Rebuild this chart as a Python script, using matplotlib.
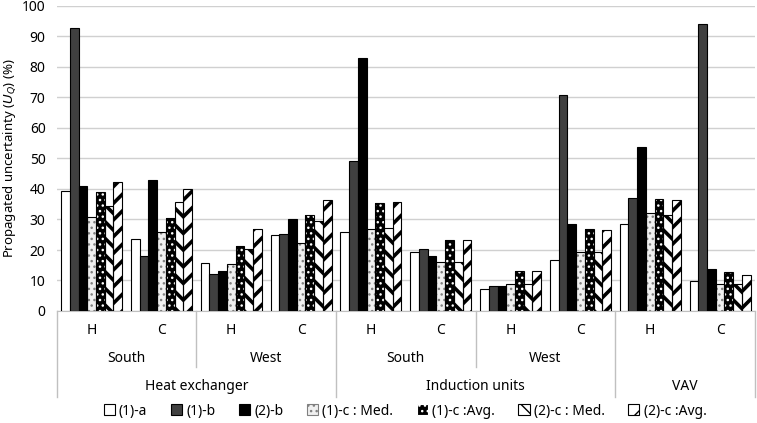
import numpy as np
import matplotlib
matplotlib.use("Agg")
import matplotlib.pyplot as plt
from matplotlib.patches import Patch
import matplotlib.transforms as mtransforms

plt.rcParams['font.family'] = ['Noto Sans', 'DejaVu Sans']

# categories (3 levels)
hc_labels = ['H', 'C', 'H', 'C', 'H', 'C', 'H', 'C', 'H', 'C']
orient_labels = ['South', 'West', 'South', 'West']
system_labels = ['Heat exchanger', 'Induction units', 'VAV']

series_names = ['(1)-a', '(1)-b', '(2)-b', '(1)-c : Med.', '(1)-c :Avg.',
                '(2)-c : Med.', '(2)-c :Avg.']

a1 = [39.2, 23.5, 15.7, 24.8, 25.8, 19.2, 7.2, 16.6, 28.4, 9.8]
b1 = [92.8, 18.0, 12.2, 25.2, 49.1, 20.3, 8.1, 70.9, 37.0, 94.2]
b2 = [41.0, 43.0, 13.0, 30.2, 82.8, 18.1, 8.3, 28.6, 53.9, 13.7]
c1_med = [30.7, 25.8, 15.3, 22.2, 26.9, 16.0, 8.7, 19.2, 32.0, 9.0]
c1_avg = [39.0, 30.5, 21.3, 31.4, 35.4, 23.3, 13.0, 26.8, 36.6, 12.8]
c2_med = [34.4, 35.7, 20.2, 29.5, 27.1, 16.2, 8.7, 19.2, 31.6, 8.7]
c2_avg = [42.4, 39.9, 26.8, 36.4, 35.6, 23.2, 13.0, 26.5, 36.4, 11.7]
values = [a1, b1, b2, c1_med, c1_avg, c2_med, c2_avg]

# face colour, hatch, hatch colour, hatch width
styles = [
    ('white', None, 'black', 1.0),
    ('#404040', None, 'black', 1.0),
    ('black', None, 'black', 1.0),
    ('#f0f0f0', '...', '#808080', 1.0),
    ('black', '...', 'white', 1.0),
    ('white', '\\\\', 'black', 2.6),
    ('white', '//', 'black', 2.6),
]

fig = plt.figure(figsize=(7.57, 4.23), dpi=100)
ax = fig.add_axes([56.7 / 757, 1 - 311 / 423, (755 - 56.7) / 757, (311 - 6) / 423])

x = np.arange(len(hc_labels))
w = 0.125
handles = []
for k, (vals, (fc, hatch, hc, hlw)) in enumerate(zip(values, styles)):
    pos = x - 3 * w + k * w
    if hatch:
        bars = ax.bar(pos, vals, width=w, color=fc, hatch=hatch, edgecolor=hc,
                      linewidth=0, zorder=2)
        for b in bars:
            b.set_hatch_linewidth(hlw)
    ax.bar(pos, vals, width=w, facecolor=fc if not hatch else 'none',
           edgecolor='black', linewidth=0.8, zorder=3)
    h = Patch(facecolor=fc, hatch=hatch, edgecolor=hc if hatch else 'black',
              linewidth=0.8)
    h.set_hatch_linewidth(min(hlw, 2.0))
    handles.append(h)

ax.set_xlim(-0.5, len(hc_labels) - 0.5)
ax.set_ylim(0, 100)
ax.set_yticks(np.arange(0, 101, 10))
ax.grid(axis='y', color='#d0d0d0', linewidth=1.0, zorder=0)
ax.set_axisbelow(True)
for s in ['top', 'right', 'left']:
    ax.spines[s].set_visible(False)
ax.spines['bottom'].set_color('#c0c0c0')
ax.tick_params(axis='y', length=0, labelsize=10, pad=8)
ax.set_xticks([])
ax.set_ylabel('Propagated uncertainty ($U_Q$) (%)', fontsize=9.5, labelpad=3)

# multi-level category axis
trans = mtransforms.blended_transform_factory(ax.transData, fig.transFigure)


def fy(py):
    return 1 - py / 423


for i, lab in enumerate(hc_labels):
    ax.text(i, fy(330), lab, transform=trans, ha='center', va='center', fontsize=10)
for j, lab in enumerate(orient_labels):
    ax.text(2 * j + 0.5, fy(358), lab, transform=trans, ha='center', va='center', fontsize=10)
for j, lab in enumerate(system_labels):
    xc = [1.5, 5.5, 8.5][j]
    ax.text(xc, fy(386), lab, transform=trans, ha='center', va='center', fontsize=10)

line_kw = dict(transform=trans, color='#c0c0c0', linewidth=1.0, clip_on=False)
for xb in [-0.5, 3.5, 7.5, 9.5]:
    ax.plot([xb, xb], [fy(311), fy(397)], **line_kw)
for xb in [1.5, 5.5]:
    ax.plot([xb, xb], [fy(311), fy(367)], **line_kw)

fig.legend(handles, series_names, loc='center', bbox_to_anchor=(405 / 757, fy(411)),
           ncol=7, frameon=False, fontsize=10, handlelength=0.8, handleheight=0.8,
           handletextpad=0.3, columnspacing=1.7)

fig.savefig('out.png', dpi=100)
